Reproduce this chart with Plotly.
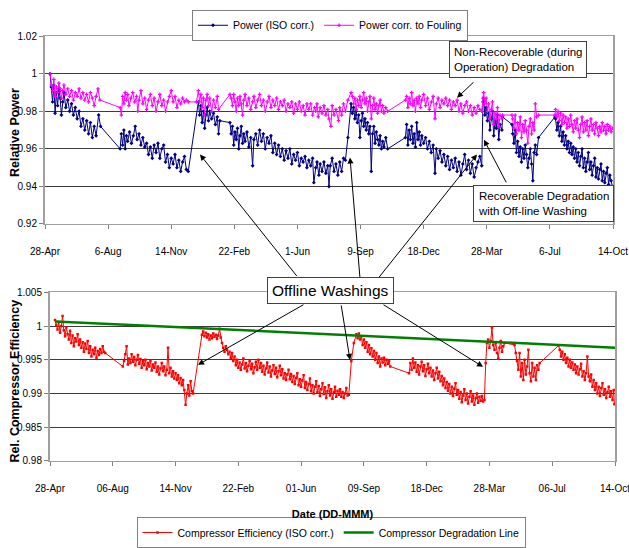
import pandas as pd
import plotly.graph_objects as go

# ---------------- data ----------------
START_DATE = "2003-04-28"
TICK_STEP_DAYS = 100
top_tick_labels = ["28-Apr", "6-Aug", "14-Nov", "22-Feb", "1-Jun", "9-Sep", "18-Dec", "28-Mar", "6-Jul", "14-Oct"]
bottom_tick_labels = ["28-Apr", "06-Aug", "14-Nov", "22-Feb", "01-Jun", "09-Sep", "18-Dec", "28-Mar", "06-Jul", "14-Oct"]
top_y_ticks = [0.92, 0.94, 0.96, 0.98, 1.0, 1.02]
top_y_labels = ["0.92", "0.94", "0.96", "0.98", "1", "1.02"]
bottom_y_ticks = [0.98, 0.985, 0.99, 0.995, 1.0, 1.005]
bottom_y_labels = ["0.98", "0.985", "0.99", "0.995", "1", "1.005"]

# (day since 28-Apr, value)
power_iso = [
    (8, 1.000), (10, 0.993), (12, 0.985), (14, 0.994), (16, 0.979), (18, 0.990), (20, 0.983), (22, 0.992),
    (24, 0.987), (26, 0.978), (28, 0.985), (30, 0.990), (33, 0.982), (36, 0.986), (39, 0.980), (42, 0.984),
    (45, 0.978), (48, 0.982), (51, 0.976), (54, 0.980), (57, 0.972), (60, 0.976), (63, 0.970), (66, 0.975),
    (69, 0.968), (72, 0.974), (75, 0.966), (78, 0.972), (81, 0.967), (85, 0.978), (88, 0.972),
    (119, 0.960), (121, 0.968), (123, 0.962), (125, 0.970), (127, 0.960), (129, 0.967), (131, 0.964),
    (134, 0.969), (137, 0.963), (140, 0.967), (143, 0.972), (146, 0.965), (149, 0.968), (152, 0.962),
    (155, 0.966), (158, 0.961), (161, 0.963), (164, 0.957), (167, 0.961), (170, 0.955), (173, 0.962),
    (176, 0.958), (179, 0.963), (182, 0.955), (185, 0.960), (188, 0.962), (191, 0.953), (194, 0.957),
    (197, 0.950), (200, 0.955), (203, 0.952), (206, 0.957), (209, 0.950), (212, 0.954), (215, 0.948),
    (218, 0.953), (221, 0.956), (224, 0.949), (227, 0.948),
    (243, 0.985), (245, 0.978), (247, 0.983), (249, 0.974), (251, 0.980), (253, 0.971), (255, 0.978),
    (257, 0.982), (259, 0.975), (261, 0.980), (264, 0.976), (267, 0.979), (270, 0.973), (273, 0.977),
    (275, 0.968), (277, 0.975), (293, 0.974),
    (295, 0.968), (297, 0.972), (299, 0.962), (301, 0.969), (303, 0.965), (305, 0.971), (307, 0.960),
    (309, 0.967), (311, 0.972), (313, 0.963), (315, 0.968), (317, 0.964), (320, 0.969), (323, 0.961),
    (326, 0.966), (329, 0.951), (331, 0.965), (334, 0.968), (337, 0.962), (340, 0.970), (343, 0.964),
    (346, 0.968), (349, 0.960), (352, 0.966), (355, 0.963), (358, 0.967), (361, 0.958), (364, 0.963),
    (367, 0.957), (370, 0.962), (373, 0.956), (376, 0.960), (379, 0.954), (382, 0.959), (385, 0.955),
    (388, 0.960), (391, 0.952), (394, 0.957), (397, 0.954), (400, 0.958), (403, 0.951), (406, 0.955),
    (409, 0.953), (412, 0.956), (415, 0.950), (418, 0.954), (421, 0.951), (424, 0.955), (426, 0.942),
    (429, 0.950), (431, 0.953), (434, 0.946), (436, 0.952), (439, 0.948), (442, 0.953), (445, 0.947),
    (448, 0.951), (450, 0.940), (452, 0.951), (455, 0.955), (458, 0.948), (461, 0.952), (464, 0.946),
    (467, 0.953), (470, 0.948), (473, 0.955), (476, 0.954),
    (480, 0.966), (485, 0.984),
    (487, 0.979), (489, 0.982), (491, 0.976), (493, 0.980), (495, 0.974), (497, 0.978), (499, 0.966),
    (501, 0.975), (503, 0.979), (505, 0.972), (507, 0.976), (509, 0.970), (511, 0.974), (513, 0.968),
    (515, 0.972), (517, 0.948), (519, 0.968), (521, 0.972), (523, 0.963), (525, 0.969), (527, 0.965),
    (529, 0.962), (531, 0.967), (533, 0.960), (535, 0.964), (537, 0.961), (540, 0.966), (543, 0.960),
    (571, 0.966), (573, 0.973), (575, 0.962), (577, 0.970), (579, 0.965), (581, 0.972), (583, 0.963),
    (585, 0.968), (587, 0.961), (589, 0.974), (591, 0.965), (593, 0.969), (595, 0.962), (597, 0.967),
    (600, 0.963), (603, 0.966), (606, 0.960), (609, 0.964), (612, 0.958), (615, 0.962), (618, 0.947),
    (620, 0.960), (623, 0.955), (626, 0.959), (629, 0.953), (632, 0.957), (635, 0.951), (638, 0.956),
    (641, 0.949), (644, 0.954), (647, 0.950), (650, 0.955), (653, 0.948), (656, 0.953), (659, 0.946),
    (662, 0.952), (665, 0.957), (668, 0.949), (671, 0.954), (674, 0.947), (677, 0.952), (680, 0.945),
    (683, 0.950), (686, 0.953), (689, 0.956), (692, 0.951), (694, 0.985), (695, 0.987),
    (697, 0.978), (699, 0.982), (701, 0.975), (703, 0.979), (705, 0.970), (707, 0.976), (709, 0.980),
    (711, 0.967), (713, 0.975), (715, 0.971), (717, 0.978), (719, 0.965), (721, 0.973), (724, 0.970),
    (725, 0.977), (740, 0.973),
    (741, 0.968), (743, 0.963), (745, 0.970), (747, 0.958), (749, 0.964), (751, 0.956), (753, 0.961),
    (755, 0.953), (757, 0.960), (759, 0.955), (761, 0.962), (763, 0.957), (765, 0.950), (767, 0.955),
    (769, 0.960), (771, 0.952), (773, 0.943), (775, 0.958), (777, 0.962), (779, 0.957), (782, 0.966),
    (808, 0.977), (809, 0.976), (811, 0.970), (813, 0.974), (815, 0.967), (817, 0.972), (819, 0.964),
    (821, 0.969), (823, 0.962), (825, 0.967), (827, 0.960), (829, 0.964), (831, 0.958), (833, 0.963),
    (835, 0.957), (837, 0.961), (839, 0.955), (841, 0.960), (843, 0.953), (845, 0.958), (847, 0.951),
    (849, 0.956), (851, 0.960), (853, 0.950), (855, 0.955), (857, 0.948), (859, 0.953), (861, 0.958),
    (863, 0.949), (865, 0.953), (867, 0.946), (869, 0.951), (871, 0.955), (873, 0.945), (875, 0.950),
    (877, 0.944), (879, 0.949), (881, 0.952), (883, 0.943), (885, 0.948), (887, 0.942), (889, 0.947),
    (891, 0.950), (893, 0.941), (895, 0.946), (897, 0.943), (899, 0.940),
]

power_fouling = [
    (8, 1.000), (10, 0.994), (12, 0.991), (14, 0.997), (16, 0.988), (18, 0.993), (20, 0.990), (22, 0.995),
    (24, 0.992), (26, 0.987), (28, 0.991), (30, 0.994), (33, 0.989), (36, 0.992), (39, 0.988), (42, 0.991),
    (45, 0.986), (48, 0.990), (51, 0.988), (54, 0.992), (57, 0.987), (60, 0.990), (63, 0.986), (66, 0.989),
    (69, 0.985), (72, 0.990), (75, 0.987), (78, 0.983), (81, 0.988), (84, 0.992), (87, 0.986),
    (119, 0.982), (121, 0.978), (123, 0.988), (125, 0.984), (127, 0.990), (129, 0.986), (131, 0.989),
    (133, 0.983), (136, 0.987), (139, 0.990), (142, 0.985), (145, 0.988), (147, 0.980), (149, 0.986),
    (152, 0.991), (155, 0.984), (158, 0.987), (161, 0.981), (164, 0.986), (167, 0.989), (170, 0.983),
    (173, 0.987), (176, 0.980), (179, 0.985), (182, 0.989), (185, 0.983), (188, 0.986), (191, 0.980),
    (194, 0.985), (197, 0.988), (200, 0.991), (203, 0.985), (206, 0.988), (209, 0.982), (212, 0.986),
    (215, 0.984), (218, 0.987), (221, 0.985), (224, 0.986), (227, 0.985), (240, 0.985),
    (243, 0.991), (245, 0.985), (247, 0.989), (249, 0.982), (251, 0.987), (253, 0.978), (255, 0.986),
    (257, 0.989), (259, 0.983), (261, 0.987), (264, 0.980), (267, 0.986), (270, 0.982), (273, 0.988),
    (275, 0.981), (293, 0.989),
    (295, 0.987), (297, 0.983), (299, 0.989), (301, 0.985), (303, 0.980), (305, 0.987), (307, 0.983),
    (309, 0.988), (311, 0.984), (313, 0.978), (315, 0.986), (317, 0.989), (320, 0.983), (323, 0.987),
    (326, 0.981), (329, 0.985), (331, 0.988), (334, 0.982), (337, 0.986), (340, 0.989), (343, 0.983),
    (346, 0.986), (349, 0.980), (352, 0.985), (355, 0.988), (358, 0.982), (361, 0.986), (364, 0.983),
    (367, 0.987), (370, 0.981), (373, 0.985), (376, 0.983), (379, 0.986), (382, 0.980), (385, 0.984),
    (388, 0.982), (391, 0.985), (394, 0.979), (397, 0.984), (400, 0.981), (403, 0.985), (406, 0.980),
    (409, 0.983), (412, 0.978), (415, 0.984), (418, 0.981), (421, 0.984), (424, 0.978), (427, 0.982),
    (429, 0.980), (431, 0.984), (433, 0.977), (436, 0.982), (439, 0.979), (442, 0.983), (445, 0.978),
    (448, 0.981), (450, 0.976), (453, 0.972), (455, 0.983), (458, 0.978), (461, 0.981), (465, 0.975),
    (467, 0.982), (470, 0.978), (473, 0.984), (476, 0.980),
    (480, 0.986), (485, 0.990),
    (487, 0.988), (489, 0.984), (491, 0.987), (493, 0.981), (495, 0.986), (497, 0.983), (499, 0.988),
    (501, 0.982), (503, 0.986), (505, 0.990), (507, 0.984), (509, 0.987), (511, 0.980), (513, 0.985),
    (515, 0.988), (517, 0.976), (519, 0.983), (521, 0.987), (523, 0.981), (525, 0.984), (527, 0.979),
    (529, 0.983), (531, 0.986), (533, 0.980), (535, 0.983), (537, 0.979), (540, 0.982), (543, 0.980),
    (571, 0.986), (573, 0.988), (575, 0.982), (577, 0.987), (579, 0.984), (581, 0.990), (583, 0.983),
    (585, 0.986), (587, 0.980), (589, 0.987), (591, 0.984), (593, 0.988), (595, 0.982), (597, 0.986),
    (600, 0.989), (603, 0.983), (606, 0.987), (609, 0.981), (612, 0.985), (615, 0.988), (618, 0.976),
    (620, 0.984), (623, 0.987), (626, 0.982), (629, 0.986), (632, 0.984), (635, 0.987), (638, 0.983),
    (641, 0.986), (644, 0.981), (647, 0.985), (650, 0.983), (653, 0.986), (656, 0.980), (659, 0.984),
    (662, 0.979), (665, 0.983), (668, 0.985), (671, 0.980), (674, 0.983), (677, 0.978), (680, 0.982),
    (683, 0.979), (686, 0.983), (689, 0.981), (692, 0.980), (694, 0.987), (695, 0.990),
    (697, 0.984), (699, 0.987), (701, 0.980), (703, 0.984), (705, 0.976), (707, 0.981), (709, 0.985),
    (711, 0.973), (713, 0.979), (715, 0.976), (717, 0.982), (719, 0.972), (721, 0.978), (724, 0.976),
    (725, 0.978), (740, 0.978),
    (741, 0.976), (743, 0.971), (745, 0.978), (747, 0.968), (749, 0.974), (751, 0.970), (753, 0.977),
    (755, 0.966), (757, 0.973), (759, 0.969), (761, 0.975), (763, 0.970), (765, 0.963), (767, 0.972),
    (769, 0.976), (771, 0.968), (773, 0.974), (775, 0.970), (777, 0.984), (779, 0.977), (782, 0.978),
    (808, 0.978), (809, 0.981), (811, 0.977), (813, 0.980), (815, 0.975), (817, 0.979), (819, 0.973),
    (821, 0.978), (823, 0.974), (825, 0.977), (827, 0.971), (829, 0.976), (831, 0.972), (833, 0.978),
    (835, 0.973), (837, 0.969), (839, 0.975), (841, 0.971), (843, 0.976), (845, 0.970), (847, 0.966),
    (849, 0.973), (851, 0.977), (853, 0.969), (855, 0.974), (857, 0.970), (859, 0.975), (861, 0.967),
    (863, 0.972), (865, 0.976), (867, 0.970), (869, 0.973), (871, 0.968), (873, 0.974), (875, 0.971),
    (877, 0.967), (879, 0.972), (881, 0.969), (883, 0.974), (885, 0.970), (887, 0.972), (889, 0.968),
    (891, 0.973), (893, 0.970), (895, 0.972), (897, 0.969), (899, 0.971),
]

compressor_eff = [
    (8, 1.0009), (10, 1.0002), (12, 0.9995), (14, 1.0006), (16, 0.9990), (18, 1.0000), (20, 1.0015),
    (22, 0.9994), (24, 0.9985), (26, 0.9998), (28, 0.9988), (30, 0.9980), (32, 0.9993), (34, 0.9975),
    (36, 0.9986), (38, 0.9970), (40, 0.9982), (42, 0.9977), (44, 0.9988), (46, 0.9972), (48, 0.9980),
    (50, 0.9968), (52, 0.9976), (54, 0.9962), (56, 0.9974), (58, 0.9966), (60, 0.9978), (62, 0.9960),
    (64, 0.9970), (66, 0.9955), (68, 0.9965), (70, 0.9958), (72, 0.9968), (74, 0.9953), (76, 0.9963),
    (78, 0.9957), (80, 0.9966), (82, 0.9960), (84, 0.9970), (86, 0.9962), (88, 0.9960),
    (116, 0.9940), (118, 0.9948), (120, 0.9958), (122, 0.9970), (124, 0.9943), (126, 0.9952),
    (128, 0.9945), (130, 0.9958), (132, 0.9947), (134, 0.9954), (136, 0.9942), (138, 0.9950),
    (140, 0.9957), (142, 0.9944), (144, 0.9951), (146, 0.9938), (148, 0.9948), (150, 0.9942),
    (152, 0.9950), (154, 0.9936), (156, 0.9945), (158, 0.9940), (160, 0.9948), (162, 0.9934),
    (164, 0.9943), (166, 0.9938), (168, 0.9946), (170, 0.9932), (172, 0.9940), (174, 0.9928),
    (176, 0.9937), (178, 0.9945), (180, 0.9933), (182, 0.9940), (184, 0.9927), (186, 0.9935),
    (188, 0.9968), (190, 0.9930), (192, 0.9938), (194, 0.9925), (196, 0.9933), (198, 0.9922),
    (200, 0.9930), (202, 0.9920), (204, 0.9927), (206, 0.9915), (208, 0.9923), (210, 0.9912),
    (212, 0.9920), (214, 0.9905), (216, 0.9883), (218, 0.9900), (220, 0.9912), (222, 0.9897),
    (224, 0.9918), (226, 0.9903), (228, 0.9900),
    (242, 0.9987), (244, 0.9992), (246, 0.9985), (248, 0.9990), (250, 0.9983), (252, 0.9988),
    (254, 0.9980), (256, 0.9986), (258, 0.9982), (260, 0.9989), (262, 0.9984), (264, 0.9987),
    (266, 0.9981), (268, 0.9986), (270, 0.9996), (272, 0.9983), (274, 0.9975), (276, 0.9968),
    (278, 0.9962), (280, 0.9970), (282, 0.9965), (284, 0.9958), (286, 0.9962), (288, 0.9953),
    (290, 0.9960), (292, 0.9948),
    (294, 0.9955), (296, 0.9942), (298, 0.9950), (300, 0.9938), (302, 0.9946), (304, 0.9935),
    (306, 0.9943), (308, 0.9952), (310, 0.9937), (312, 0.9945), (314, 0.9933), (316, 0.9941),
    (318, 0.9948), (320, 0.9936), (322, 0.9944), (324, 0.9930), (326, 0.9939), (328, 0.9947),
    (330, 0.9935), (332, 0.9950), (334, 0.9938), (336, 0.9945), (338, 0.9932), (340, 0.9941),
    (342, 0.9928), (344, 0.9937), (346, 0.9946), (348, 0.9931), (350, 0.9940), (352, 0.9925),
    (354, 0.9934), (356, 0.9942), (358, 0.9929), (360, 0.9938), (362, 0.9924), (364, 0.9933),
    (366, 0.9941), (368, 0.9927), (370, 0.9936), (372, 0.9922), (374, 0.9930), (376, 0.9920),
    (378, 0.9928), (380, 0.9935), (382, 0.9921), (384, 0.9929), (386, 0.9917), (388, 0.9926),
    (390, 0.9914), (392, 0.9923), (394, 0.9930), (396, 0.9912), (398, 0.9921), (400, 0.9910),
    (402, 0.9919), (404, 0.9927), (406, 0.9908), (408, 0.9917), (410, 0.9905), (412, 0.9914),
    (414, 0.9922), (416, 0.9903), (418, 0.9912), (420, 0.9900), (422, 0.9910), (424, 0.9918),
    (426, 0.9902), (428, 0.9911), (430, 0.9896), (432, 0.9906), (434, 0.9915), (436, 0.9899),
    (438, 0.9909), (440, 0.9893), (442, 0.9903), (444, 0.9912), (446, 0.9897), (448, 0.9906),
    (450, 0.9892), (452, 0.9902), (454, 0.9910), (456, 0.9895), (458, 0.9904), (460, 0.9898),
    (462, 0.9906), (464, 0.9895), (466, 0.9902), (468, 0.9893), (470, 0.9900), (472, 0.9908),
    (474, 0.9897), (476, 0.9898), (480, 0.9948), (484, 0.9975), (488, 0.9988),
    (490, 0.9982), (492, 0.9989), (494, 0.9980), (496, 0.9985), (498, 0.9972), (500, 0.9980),
    (502, 0.9968), (504, 0.9976), (506, 0.9962), (508, 0.9972), (510, 0.9958), (512, 0.9967),
    (514, 0.9955), (516, 0.9963), (518, 0.9950), (520, 0.9960), (522, 0.9945), (524, 0.9955),
    (526, 0.9940), (528, 0.9952), (530, 0.9946), (532, 0.9953), (534, 0.9942), (536, 0.9950),
    (538, 0.9944), (540, 0.9948), (542, 0.9940),
    (572, 0.9930), (574, 0.9945), (576, 0.9935), (578, 0.9952), (580, 0.9938), (582, 0.9946),
    (584, 0.9932), (586, 0.9942), (588, 0.9928), (590, 0.9940), (592, 0.9947), (594, 0.9933),
    (596, 0.9942), (598, 0.9926), (600, 0.9936), (602, 0.9944), (604, 0.9930), (606, 0.9938),
    (608, 0.9925), (610, 0.9934), (612, 0.9920), (614, 0.9930), (616, 0.9938), (618, 0.9922),
    (620, 0.9932), (622, 0.9918), (624, 0.9926), (626, 0.9912), (628, 0.9922), (630, 0.9908),
    (632, 0.9917), (634, 0.9904), (636, 0.9914), (638, 0.9900), (640, 0.9910), (642, 0.9896),
    (644, 0.9907), (646, 0.9915), (648, 0.9898), (650, 0.9905), (652, 0.9892), (654, 0.9902),
    (656, 0.9887), (658, 0.9897), (660, 0.9906), (662, 0.9890), (664, 0.9900), (666, 0.9885),
    (668, 0.9895), (670, 0.9903), (672, 0.9888), (674, 0.9897), (676, 0.9883), (678, 0.9893),
    (680, 0.9900), (682, 0.9886), (684, 0.9895), (686, 0.9889), (688, 0.9896), (690, 0.9888),
    (692, 0.9890), (694, 0.9945), (696, 0.9975),
    (698, 0.9980), (700, 0.9968), (702, 0.9978), (704, 0.9998), (706, 0.9972), (708, 0.9965),
    (710, 0.9975), (712, 0.9960), (714, 0.9952), (716, 0.9968), (718, 0.9978), (720, 0.9962),
    (722, 0.9970), (724, 0.9975), (740, 0.9972), (742, 0.9960),
    (744, 0.9948), (746, 0.9935), (748, 0.9960), (750, 0.9925), (752, 0.9945), (754, 0.9920),
    (756, 0.9950), (758, 0.9928), (760, 0.9940), (762, 0.9965), (764, 0.9930), (766, 0.9918),
    (768, 0.9945), (770, 0.9925), (772, 0.9938), (774, 0.9920), (776, 0.9942), (778, 0.9935),
    (780, 0.9945), (810, 0.9971),
    (812, 0.9965), (814, 0.9955), (816, 0.9962), (818, 0.9950), (820, 0.9958), (822, 0.9945),
    (824, 0.9953), (826, 0.9940), (828, 0.9950), (830, 0.9938), (832, 0.9946), (834, 0.9935),
    (836, 0.9943), (838, 0.9930), (840, 0.9940), (842, 0.9928), (844, 0.9936), (846, 0.9944),
    (848, 0.9925), (850, 0.9933), (852, 0.9920), (854, 0.9930), (856, 0.9955), (858, 0.9925),
    (860, 0.9918), (862, 0.9928), (864, 0.9910), (866, 0.9920), (868, 0.9905), (870, 0.9915),
    (872, 0.9900), (874, 0.9910), (876, 0.9896), (878, 0.9908), (880, 0.9915), (882, 0.9898),
    (884, 0.9906), (886, 0.9893), (888, 0.9902), (890, 0.9910), (892, 0.9895), (894, 0.9903),
    (896, 0.9890), (898, 0.9905), (899, 0.9884),
]

degradation_line = [(8, 1.0007), (900, 0.9968)]

# ---------------- helpers ----------------
W, H = 629, 548
start = pd.Timestamp(START_DATE)


def to_dates(days):
    return [start + pd.Timedelta(days=d) for d in days]


def split(pairs):
    d, v = zip(*pairs)
    return to_dates(d), list(v)


def px(x):
    return x / W


def py(y):
    return 1 - y / H


FONT = "Liberation Sans, Arial, sans-serif"
tick_dates = to_dates([k * TICK_STEP_DAYS for k in range(len(top_tick_labels))])
x_range = [tick_dates[0], tick_dates[-1]]

fig = go.Figure()

x1, y1 = split(power_iso)
fig.add_trace(go.Scatter(x=x1, y=y1, name="Power (ISO corr.)", mode="lines+markers",
                         line=dict(color="#000080", width=1),
                         marker=dict(symbol="diamond", size=3, color="#000080"),
                         xaxis="x", yaxis="y", legend="legend"))
x2, y2 = split(power_fouling)
fig.add_trace(go.Scatter(x=x2, y=y2, name="Power corr. to Fouling", mode="lines+markers",
                         line=dict(color="#FF00FF", width=1),
                         marker=dict(symbol="cross", size=3, color="#FF00FF"),
                         xaxis="x", yaxis="y", legend="legend"))
x3, y3 = split(compressor_eff)
fig.add_trace(go.Scatter(x=x3, y=y3, name="Compressor Efficiency (ISO corr.)", mode="lines+markers",
                         line=dict(color="#FF0000", width=1),
                         marker=dict(symbol="square", size=2.5, color="#FF0000"),
                         xaxis="x2", yaxis="y2", legend="legend2"))
x4, y4 = split(degradation_line)
fig.add_trace(go.Scatter(x=x4, y=y4, name="Compressor Degradation Line", mode="lines",
                         line=dict(color="#008000", width=2.5),
                         xaxis="x2", yaxis="y2", legend="legend2"))

grid = "#3c3c3c"
border = "#a0a0a0"
common_x = dict(type="date", range=x_range, tickvals=tick_dates, showgrid=False,
                ticks="outside", ticklen=4, tickcolor="#808080",
                showline=True, linecolor=border, linewidth=1, mirror=True,
                tickfont=dict(family=FONT, size=10, color="#000"),
                ticklabelstandoff=14, ticklabeloverflow="allow",
                automargin=False, zeroline=False)
common_y = dict(showgrid=True, gridcolor=grid, gridwidth=1,
                ticks="outside", ticklen=4, tickcolor="#808080",
                showline=True, linecolor=border, linewidth=2, mirror=True,
                tickfont=dict(family=FONT, size=10, color="#000"),
                automargin=False, zeroline=False)

fig.update_layout(
    width=W, height=H,
    margin=dict(l=0, r=0, t=0, b=0),
    paper_bgcolor="white", plot_bgcolor="white",
    xaxis=dict(common_x, domain=[px(45), px(613)], anchor="y", ticktext=top_tick_labels),
    yaxis=dict(common_y, domain=[py(229), py(37)], anchor="x", range=[0.92, 1.02],
               tickvals=top_y_ticks, ticktext=top_y_labels),
    xaxis2=dict(common_x, domain=[px(50), px(615)], anchor="y2", ticktext=bottom_tick_labels,
                title=dict(text="<b>Date (DD-MMM)</b>", standoff=17,
                           font=dict(family=FONT, size=11, color="#000"))),
    yaxis2=dict(common_y, domain=[py(471), py(299)], anchor="x2", range=[0.98, 1.005],
                tickvals=bottom_y_ticks, ticktext=bottom_y_labels),
    legend=dict(orientation="h", x=px(330), y=py(10), xanchor="center", yanchor="top",
                bordercolor="#808080", borderwidth=1, bgcolor="white",
                font=dict(family=FONT, size=10.5, color="#000"),
                itemwidth=30, tracegroupgap=0),
    legend2=dict(orientation="h", x=px(331), y=py(529), xanchor="center", yanchor="top",
                 bordercolor="#808080", borderwidth=1, bgcolor="white",
                 font=dict(family=FONT, size=10.5, color="#000"),
                 itemwidth=30, tracegroupgap=0),
    showlegend=True,
)

# y-axis titles (rotated)
title_style = dict(xref="paper", yref="paper", showarrow=False, textangle=-90,
                   xanchor="center", yanchor="middle", font=dict(family=FONT, size=12.5, color="#000"))
fig.add_annotation(text="<b>Relative Power</b>", x=px(15), y=py(136), **title_style)
fig.add_annotation(text="<b>Rel. Compressor Efficiency</b>", x=px(15), y=py(390), **title_style)

# text boxes (centre positions in pixels)
box_style = dict(xref="paper", yref="paper", xanchor="center", yanchor="middle", showarrow=False,
                 bordercolor="#404040", borderwidth=1, borderpad=4, bgcolor="white", align="left")
fig.add_annotation(text="Non-Recoverable (during<br>Operation) Degradation", x=px(518), y=py(61),
                   font=dict(family=FONT, size=11.5, color="#000"), **box_style)
fig.add_annotation(text="Recoverable Degradation<br>with Off-line Washing", x=px(543), y=py(208),
                   font=dict(family=FONT, size=11.5, color="#000"), **box_style)
fig.add_annotation(text="Offline Washings", x=px(330), y=py(297),
                   font=dict(family=FONT, size=15.5, color="#000"), **box_style)

# arrows: (head_x, head_y, tail_x, tail_y) in pixels
arrows = [
    (457, 100, 475, 83),
    (484, 143, 507, 187),
    (200, 158, 298, 281),
    (350, 161, 360, 282),
    (477, 158, 378, 282),
    (198, 373, 305, 312),
    (350, 368, 341, 312),
    (483, 375, 382, 312),
]
for hx, hy, tx, ty in arrows:
    fig.add_annotation(x=px(hx), y=py(hy), xref="paper", yref="paper",
                       ax=tx - hx, ay=ty - hy, axref="pixel", ayref="pixel",
                       text="", showarrow=True, arrowhead=2, arrowsize=1.2,
                       arrowwidth=1, arrowcolor="#000")

fig.write_html("out.html")
